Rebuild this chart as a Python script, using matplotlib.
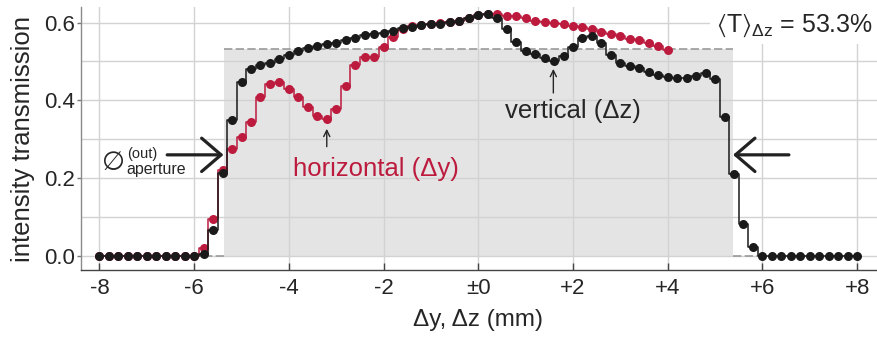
import matplotlib
matplotlib.use("Agg")
import matplotlib.pyplot as plt
from matplotlib.ticker import MultipleLocator

plt.rcParams['font.family'] = ['Liberation Sans', 'DejaVu Sans']
plt.rcParams['mathtext.fontset'] = 'custom'
plt.rcParams['mathtext.rm'] = 'Liberation Sans'
plt.rcParams['mathtext.it'] = 'Liberation Sans:italic'
plt.rcParams['mathtext.fallback'] = 'stixsans'

# scan positions (mm)
pos = [-8.0, -7.8, -7.6, -7.4, -7.2, -7.0, -6.8, -6.6, -6.4, -6.2, -6.0,
       -5.8, -5.6, -5.4, -5.2, -5.0, -4.8, -4.6, -4.4, -4.2, -4.0,
       -3.8, -3.6, -3.4, -3.2, -3.0, -2.8, -2.6, -2.4, -2.2, -2.0,
       -1.8, -1.6, -1.4, -1.2, -1.0, -0.8, -0.6, -0.4, -0.2, 0.0,
       0.2, 0.4, 0.6, 0.8, 1.0, 1.2, 1.4, 1.6, 1.8, 2.0,
       2.2, 2.4, 2.6, 2.8, 3.0, 3.2, 3.4, 3.6, 3.8, 4.0,
       4.2, 4.4, 4.6, 4.8, 5.0, 5.2, 5.4, 5.6, 5.8, 6.0,
       6.2, 6.4, 6.6, 6.8, 7.0, 7.2, 7.4, 7.6, 7.8, 8.0]

# vertical scan (dz), black
vertical = [0, 0, 0, 0, 0, 0, 0, 0, 0, 0, 0,
            0.005, 0.068, 0.214, 0.350, 0.446, 0.480, 0.490, 0.497, 0.506, 0.517,
            0.527, 0.534, 0.541, 0.546, 0.548, 0.555, 0.561, 0.567, 0.570, 0.574,
            0.579, 0.585, 0.589, 0.594, 0.596, 0.597, 0.601, 0.605, 0.613, 0.620,
            0.621, 0.611, 0.583, 0.549, 0.528, 0.519, 0.508, 0.501, 0.515, 0.538,
            0.560, 0.566, 0.547, 0.517, 0.495, 0.489, 0.483, 0.474, 0.465, 0.461,
            0.458, 0.458, 0.463, 0.471, 0.455, 0.357, 0.210, 0.082, 0.024, 0,
            0, 0, 0, 0, 0, 0, 0, 0, 0, 0]

# horizontal scan (dy), red (measured up to +4 mm)
horizontal = [0, 0, 0, 0, 0, 0, 0, 0, 0, 0, 0,
              0.020, 0.095, 0.220, 0.274, 0.305, 0.344, 0.408, 0.442, 0.446, 0.429,
              0.408, 0.384, 0.360, 0.353, 0.378, 0.438, 0.492, 0.511, 0.512, 0.536,
              0.564, 0.584, 0.592, 0.594, 0.597, 0.598, 0.601, 0.605, 0.612, 0.620,
              0.621, 0.621, 0.617, 0.616, 0.613, 0.605, 0.601, 0.600, 0.597, 0.592,
              0.588, 0.583, 0.575, 0.570, 0.566, 0.558, 0.554, 0.547, 0.540, 0.530]

aperture_half = 5.37
mean_T = 0.533

xticks = [-8, -6, -4, -2, 0, 2, 4, 6, 8]
xticklabels = ['-8', '-6', '-4', '-2', '±0', '+2', '+4', '+6', '+8']
yticks = [0.0, 0.2, 0.4, 0.6]
yticklabels = ['0.0', '0.2', '0.4', '0.6']

RED = '#BC1B3E'
DARK = '#1a1a1a'
TXT = '#262626'

fig = plt.figure(figsize=(8.78, 3.37), dpi=100)
ax = fig.add_axes([81/878, 67/337, 796/878, 263/337])

# ideal aperture profile
ax.fill_between([-aperture_half, aperture_half], 0, mean_T, color='#e4e4e4', lw=0, zorder=1)
dash = dict(color='#9a9a9a', lw=1.2, ls=(0, (5, 2)), zorder=1.6)
ax.plot([-8.0, -aperture_half], [0, 0], **dash)
ax.plot([aperture_half, 8.0], [0, 0], **dash)
ax.plot([-aperture_half, aperture_half], [mean_T, mean_T], **dash)

n_h = len(horizontal)
ax.plot(pos[:n_h], horizontal, drawstyle='steps-mid', color=RED, lw=1.1, zorder=3)
ax.plot(pos[:n_h], horizontal, 'o', color=RED, ms=6.5, mec='none', zorder=3)
ax.plot(pos, vertical, drawstyle='steps-mid', color=DARK, lw=1.1, zorder=4)
ax.plot(pos, vertical, 'o', color=DARK, ms=6.5, mec='none', zorder=4)

ax.set_xlim(-8.39, 8.42)
ax.set_ylim(-0.036, 0.640)
ax.set_xticks(xticks)
ax.set_xticklabels(xticklabels)
ax.set_yticks(yticks)
ax.set_yticklabels(yticklabels)
ax.yaxis.set_minor_locator(MultipleLocator(0.1))
ax.grid(True, which='both', color='#d2d2d2', lw=1.0)
ax.tick_params(axis='x', direction='in', length=5, width=1, color='#444', pad=6,
               labelsize=16, labelcolor=TXT)
ax.tick_params(axis='y', which='major', direction='out', length=3, width=1, color='#777', pad=1.5,
               labelsize=16, labelcolor=TXT)
ax.tick_params(axis='y', which='minor', length=0)
for s in ['top', 'right']:
    ax.spines[s].set_visible(False)
ax.spines['left'].set_color('#8a8a8a')
ax.spines['bottom'].set_color('#444444')
ax.spines['left'].set_linewidth(1.0)
ax.spines['bottom'].set_linewidth(1.0)

fig.text(23/878, (337-138.5)/337, 'intensity transmission', rotation=90,
         ha='center', va='center', fontsize=18.5, color=TXT)
fig.text(478.5/878, (337-320)/337, 'Δy, Δz (mm)', ha='center', va='center',
         fontsize=17.5, color=TXT)

# annotations
ax.text(-2.16, 0.206, 'horizontal (Δy)', color=RED, fontsize=18.5, ha='center', va='baseline')
ax.text(2.0, 0.354, 'vertical (Δz)', color=TXT, fontsize=18.5, ha='center', va='baseline')
ax.annotate('', xy=(-3.2, 0.327), xytext=(-3.2, 0.281),
            arrowprops=dict(arrowstyle='->,head_length=0.45,head_width=0.22', lw=1.0,
                            color=TXT, shrinkA=0, shrinkB=0, mutation_scale=10))
ax.annotate('', xy=(1.585, 0.481), xytext=(1.585, 0.419),
            arrowprops=dict(arrowstyle='->,head_length=0.45,head_width=0.22', lw=1.0,
                            color=TXT, shrinkA=0, shrinkB=0, mutation_scale=10))

big = dict(arrowstyle='->,head_length=0.7,head_width=0.6', lw=2.3, color='#222222',
           shrinkA=0, shrinkB=0, mutation_scale=20)
ax.annotate('', xy=(-5.38, 0.26), xytext=(-6.57, 0.26), arrowprops=big, zorder=5)
ax.annotate('', xy=(5.38, 0.26), xytext=(6.56, 0.26), arrowprops=big, zorder=5)

ax.text(-7.71, 0.239, '∅', fontsize=19, ha='center', va='center', color=TXT,
        family=['DejaVu Sans'])
ax.text(-7.10, 0.262, '(out)', fontsize=10.5, ha='center', va='center', color=TXT)
ax.text(-7.44, 0.210, 'aperture', fontsize=11.5, ha='left', va='baseline', color=TXT)

fig.text(873/878, (337-31.7)/337, r'$\langle\mathrm{T}\rangle_{\mathrm{\Delta z}}$ = 53.3%',
         ha='right', va='baseline', fontsize=18, color=TXT,
         bbox=dict(facecolor='white', edgecolor='none', pad=4))

fig.savefig('out.png', dpi=100)
